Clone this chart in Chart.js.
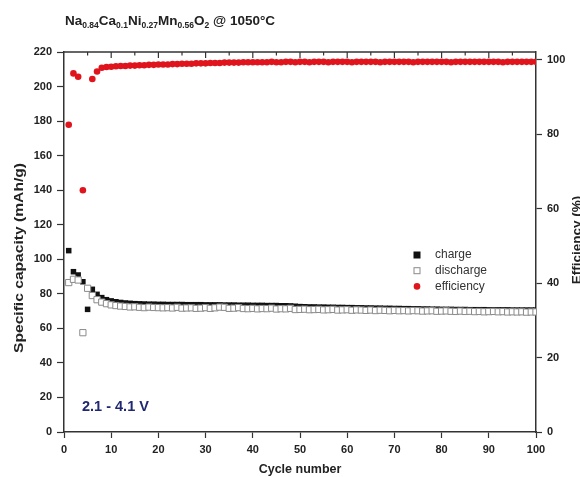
<!DOCTYPE html>
<html>
<head>
<meta charset="utf-8">
<script src="https://cdn.jsdelivr.net/npm/chart.js@4"></script>
<style>
    body { margin: 0; background: #fff; }
    #wrap { position: relative; width: 580px; height: 477px; }
    #title {
        position: absolute; left: 65px; top: 13px;
        font: bold 13.5px "Liberation Sans", Arial, sans-serif; color: #222;
        white-space: nowrap;
    }
    #title sub { font-size: 8.5px; vertical-align: -3px; line-height: 0; }
</style>
</head>
<body>
<div id="wrap">
    <div id="title">Na<sub>0.84</sub>Ca<sub>0.1</sub>Ni<sub>0.27</sub>Mn<sub>0.56</sub>O<sub>2</sub> @ 1050°C</div>
    <canvas id="chart"></canvas>
</div>
<script>
// cycle index 1..100
const cycles = Array.from({ length: 100 }, (_, i) => i + 1);

// specific capacity, mAh/g
const charge = [
    105.0, 92.8, 90.9, 87.0, 71.0, 82.6, 79.7, 77.8, 76.6, 75.9,
    75.4, 75.0, 74.7, 74.5, 74.3, 74.2, 74.1, 74.0, 74.0, 73.9,
    73.9, 73.8, 73.8, 73.8, 73.8, 73.7, 73.7, 73.7, 73.7, 73.6,
    73.6, 73.6, 73.6, 73.5, 73.5, 73.5, 73.4, 73.4, 73.4, 73.3,
    73.3, 73.3, 73.2, 73.2, 73.2, 73.1, 73.1, 73.0, 72.8, 72.6,
    72.5, 72.4, 72.4, 72.3, 72.3, 72.2, 72.2, 72.1, 72.1, 72.0,
    72.0, 71.9, 71.9, 71.8, 71.8, 71.7, 71.7, 71.6, 71.6, 71.5,
    71.5, 71.4, 71.4, 71.3, 71.3, 71.2, 71.2, 71.1, 71.1, 71.0,
    71.0, 71.0, 70.9, 70.9, 70.9, 70.8, 70.8, 70.8, 70.8, 70.7,
    70.7, 70.7, 70.7, 70.7, 70.6, 70.6, 70.6, 70.6, 70.6, 70.6
];
const discharge = [
    86.5, 88.4, 88.0, 57.5, 83.2, 79.0, 76.6, 75.2, 74.3, 73.6,
    73.2, 72.9, 72.7, 72.4, 72.5, 72.2, 72.0, 72.3, 72.1, 72.0,
    71.9, 72.0, 71.8, 72.2, 71.7, 71.8, 71.9, 71.6, 71.7, 72.0,
    71.6, 71.9, 72.3, 72.2, 71.6, 71.7, 72.0, 71.5, 71.4, 71.6,
    71.3, 71.5, 71.4, 71.7, 71.2, 71.4, 71.3, 71.6, 70.9, 71.0,
    71.1, 70.8, 70.9, 71.0, 70.7, 70.8, 71.0, 70.6, 70.7, 70.8,
    70.5, 70.7, 70.6, 70.4, 70.6, 70.3, 70.5, 70.4, 70.2, 70.4,
    70.2, 70.3, 70.1, 70.3, 70.2, 70.0, 70.1, 70.2, 69.9, 70.0,
    70.1, 69.9, 69.8, 70.0, 69.8, 69.9, 69.7, 69.8, 69.6, 69.7,
    69.8, 69.6, 69.7, 69.5, 69.6, 69.5, 69.6, 69.4, 69.5, 69.5
];
// coulombic efficiency, % (cycle 5 is off scale)
const efficiency = [
    82.6, 96.4, 95.5, 65.0, null, 94.9, 96.9, 97.9, 98.1, 98.2,
    98.3, 98.4, 98.4, 98.5, 98.5, 98.6, 98.6, 98.7, 98.7, 98.8,
    98.8, 98.8, 98.9, 98.9, 99.0, 99.0, 99.0, 99.1, 99.1, 99.1,
    99.2, 99.2, 99.2, 99.3, 99.3, 99.3, 99.3, 99.4, 99.4, 99.4,
    99.4, 99.4, 99.4, 99.5, 99.4, 99.4, 99.5, 99.5, 99.4, 99.5,
    99.5, 99.4, 99.5, 99.5, 99.5, 99.4, 99.5, 99.5, 99.5, 99.5,
    99.4, 99.5, 99.5, 99.5, 99.5, 99.5, 99.4, 99.5, 99.5, 99.5,
    99.5, 99.5, 99.5, 99.4, 99.5, 99.5, 99.5, 99.5, 99.5, 99.5,
    99.5, 99.4, 99.5, 99.5, 99.5, 99.5, 99.5, 99.5, 99.5, 99.5,
    99.5, 99.5, 99.4, 99.5, 99.5, 99.5, 99.5, 99.5, 99.5, 99.5
];

const xTicks = [0, 10, 20, 30, 40, 50, 60, 70, 80, 90, 100];
const capTicks = [0, 20, 40, 60, 80, 100, 120, 140, 160, 180, 200, 220];
const effTicks = [0, 20, 40, 60, 80, 100];
const voltageLabel = "2.1 - 4.1 V";

const FONT = '"Liberation Sans", Arial, sans-serif';
const INK = "#222";

const pts = (ys) => cycles.map((c, i) => ({ x: c, y: ys[i] }));
const keepTicks = (list) => (scale) => {
    scale.ticks = list.map((v) => ({ value: v }));
};

// frame top edge, inner ticks, labels, legend
const decorations = {
    id: "decorations",
    afterDraw(chart) {
        const { ctx, chartArea: a, scales } = chart;
        ctx.save();
        ctx.strokeStyle = "#333";
        ctx.lineWidth = 1.5;
        ctx.beginPath();
        ctx.moveTo(a.left, a.top);
        ctx.lineTo(a.right, a.top);
        ctx.stroke();
        ctx.lineWidth = 1.2;
        for (let v = 5; v < 100; v += 5) {
            const px = scales.x.getPixelForValue(v);
            ctx.beginPath();
            ctx.moveTo(px, a.top);
            ctx.lineTo(px, a.top + (v % 10 === 0 ? 6 : 3.5));
            ctx.stroke();
        }

        // voltage window
        ctx.fillStyle = "#1f2870";
        ctx.font = "bold 14.5px " + FONT;
        ctx.textBaseline = "middle";
        ctx.textAlign = "left";
        ctx.fillText(voltageLabel, 82, 407);

        // axis titles (both read bottom to top)
        ctx.fillStyle = INK;
        ctx.font = "bold 13.5px " + FONT;
        ctx.textAlign = "center";
        const yTitle = "Specific capacity (mAh/g)";
        ctx.save();
        ctx.translate(19, 258);
        ctx.rotate(-Math.PI / 2);
        const w = ctx.measureText(yTitle).width;
        ctx.scale(190 / w, 1);
        ctx.fillText(yTitle, 0, 0);
        ctx.restore();
        ctx.save();
        ctx.translate(577, 240);
        ctx.rotate(-Math.PI / 2);
        ctx.fillText("Efficiency (%)", 0, 0);
        ctx.restore();

        // legend
        ctx.font = "12px " + FONT;
        ctx.textAlign = "left";
        chart.data.datasets.forEach((ds, i) => {
            const y = 255 + i * 15.7;
            const x = 417;
            ctx.fillStyle = ds.backgroundColor;
            ctx.strokeStyle = ds.borderColor;
            ctx.lineWidth = 1;
            if (ds.pointStyle === "circle") {
                ctx.beginPath();
                ctx.arc(x, y, 3.3, 0, Math.PI * 2);
                ctx.fill();
            } else {
                ctx.fillRect(x - 3, y - 3, 6, 6);
                ctx.strokeRect(x - 3, y - 3, 6, 6);
            }
            ctx.fillStyle = "#333";
            ctx.fillText(ds.label, 435, y);
        });
        ctx.restore();
    }
};

const axisCommon = {
    border: { color: "#333", width: 1.5 },
    grid: { drawOnChartArea: false, color: "#333", tickLength: 7, tickWidth: 1.2 },
    ticks: { color: INK, font: { family: FONT, size: 11, weight: "bold" }, padding: 5 }
};

new Chart(document.getElementById("chart"), {
    type: "scatter",
    data: {
        datasets: [
            {
                label: "charge",
                data: pts(charge),
                yAxisID: "y",
                pointStyle: "rect",
                pointRadius: 3.9,
                backgroundColor: "#111",
                borderColor: "#111",
                borderWidth: 0,
                order: 3
            },
            {
                label: "discharge",
                data: pts(discharge),
                yAxisID: "y",
                pointStyle: "rect",
                pointRadius: 4.4,
                backgroundColor: "#fff",
                borderColor: "#8a8a8a",
                borderWidth: 1,
                order: 2
            },
            {
                label: "efficiency",
                data: pts(efficiency),
                yAxisID: "y1",
                pointStyle: "circle",
                pointRadius: 3.3,
                backgroundColor: "#e0141c",
                borderColor: "#e0141c",
                borderWidth: 0,
                order: 1
            }
        ]
    },
    options: {
        responsive: true,
        maintainAspectRatio: false,
        animation: false,
        layout: { padding: { top: 52, left: 0, right: 0, bottom: 0 } },
        plugins: { legend: { display: false }, tooltip: { enabled: false } },
        scales: {
            x: {
                ...axisCommon,
                type: "linear",
                min: 0,
                max: 100,
                afterBuildTicks: keepTicks(xTicks),
                afterFit: (s) => { s.height = 45; },
                grid: { ...axisCommon.grid, tickLength: 6 },
                title: {
                    display: true,
                    text: "Cycle number",
                    color: INK,
                    font: { family: FONT, size: 12.5, weight: "bold" },
                    padding: { top: 0, bottom: 0 }
                }
            },
            y: {
                ...axisCommon,
                position: "left",
                min: 0,
                max: 220,
                afterBuildTicks: keepTicks(capTicks),
                afterFit: (s) => { s.width = 64; }
            },
            y1: {
                ...axisCommon,
                position: "right",
                min: 0,
                max: 102.15,
                afterBuildTicks: keepTicks(effTicks),
                afterFit: (s) => { s.width = 44; },
                grid: { ...axisCommon.grid, tickLength: 6 }
            }
        }
    },
    plugins: [decorations]
});
</script>
</body>
</html>
